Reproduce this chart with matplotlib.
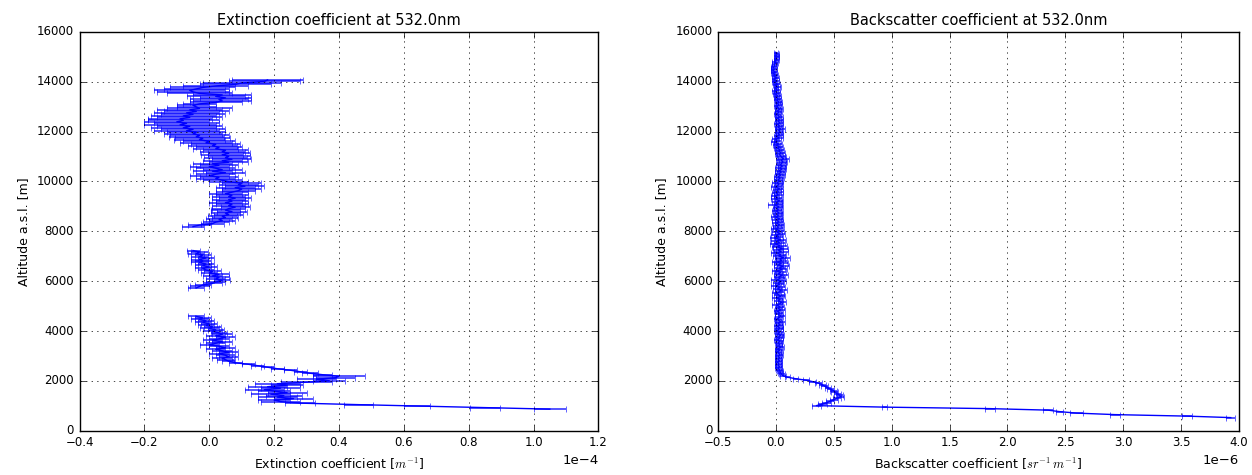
import numpy as np
import matplotlib
matplotlib.use("Agg")
import matplotlib.pyplot as plt

plt.style.use("classic")

# ---------------------------------------------------------------------------
# Extinction profile at 532 nm (units of 1e-4 m^-1), three valid segments
# ---------------------------------------------------------------------------
STEP = 60.0  # vertical resolution [m]

ext_low_start = 870.0
ext_low = [1.05, 0.85, 0.64, 0.46, 0.28, 0.22, 0.20, 0.26, 0.21, 0.23,
           0.19, 0.24, 0.20, 0.17, 0.22, 0.18, 0.24, 0.21, 0.30, 0.37,
           0.33, 0.39, 0.40, 0.35, 0.31, 0.28, 0.25, 0.21, 0.18, 0.15,
           0.12, 0.08, 0.06, 0.05, 0.04, 0.06, 0.05, 0.03, 0.06, 0.04,
           0.02, 0.05, 0.03, 0.00, 0.02, 0.04, 0.01, 0.03, 0.05, 0.02,
           0.04, 0.03, 0.01, 0.02, 0.00, 0.01, -0.01, 0.00, -0.02, -0.01,
           -0.03, -0.02, -0.04]
ext_low_err = [0.05, 0.045, 0.04, 0.045, 0.045, 0.06, 0.05, 0.06, 0.06, 0.055,
               0.06, 0.06, 0.05, 0.06, 0.06, 0.06, 0.05, 0.07, 0.08, 0.05,
               0.06, 0.06, 0.08, 0.03, 0.025, 0.02, 0.02, 0.02, 0.02, 0.02,
               0.02, 0.02, 0.02, 0.025, 0.03, 0.03, 0.03, 0.03, 0.03, 0.03,
               0.03, 0.03, 0.03, 0.03, 0.03, 0.03, 0.03, 0.03, 0.03, 0.03,
               0.03, 0.025, 0.03, 0.025, 0.03, 0.025, 0.025, 0.025, 0.025, 0.025,
               0.025, 0.025, 0.025]

ext_mid_start = 5730.0
ext_mid = [-0.04, -0.03, -0.02, 0.01, 0.02, 0.04, 0.02, 0.03, 0.01, 0.03,
           0.00, 0.01, -0.01, -0.02, 0.00, -0.02, -0.01, -0.03, -0.02, -0.03,
           -0.01, -0.03, -0.02, -0.04, -0.03, -0.05]
ext_mid_err = [0.025, 0.03, 0.025, 0.03, 0.03, 0.025, 0.03, 0.03, 0.03, 0.03,
               0.025, 0.025, 0.025, 0.025, 0.025, 0.025, 0.025, 0.025, 0.025, 0.025,
               0.025, 0.025, 0.025, 0.025, 0.025, 0.02]

ext_high_start = 8190.0
ext_high = [-0.05, -0.03, 0.01, 0.02, 0.04, 0.03, 0.05, 0.04, 0.06, 0.05,
            0.07, 0.05, 0.06, 0.08, 0.06, 0.07, 0.05, 0.07, 0.06, 0.08,
            0.06, 0.07, 0.05, 0.07, 0.09, 0.10, 0.08, 0.11, 0.09, 0.10,
            0.06, 0.04, 0.02, 0.03, 0.00, 0.02, 0.05, 0.01, 0.04, 0.02,
            0.00, 0.03, 0.01, 0.06, 0.04, 0.07, 0.05, 0.06, 0.04, 0.06,
            0.04, 0.05, 0.02, 0.03, 0.01, 0.02, -0.01, 0.00, -0.03, -0.02,
            -0.04, -0.03, -0.05, -0.04, -0.07, -0.05, -0.08, -0.06, -0.09, -0.07,
            -0.10, -0.08, -0.09, -0.06, -0.08, -0.05, -0.07, -0.04, -0.06, -0.03,
            -0.04, -0.05, -0.03, 0.02, 0.04, 0.03, 0.05, 0.02, 0.04, -0.03,
            -0.05, -0.06, -0.04, -0.02, 0.02, 0.08, 0.10, 0.17, 0.18]
ext_high_err = [0.035, 0.035, 0.035, 0.04, 0.04, 0.04, 0.04, 0.045, 0.045, 0.045,
                0.045, 0.045, 0.05, 0.045, 0.05, 0.05, 0.05, 0.05, 0.05, 0.05,
                0.05, 0.05, 0.05, 0.05, 0.05, 0.06, 0.06, 0.06, 0.06, 0.06,
                0.06, 0.06, 0.06, 0.06, 0.06, 0.06, 0.06, 0.06, 0.06, 0.06,
                0.06, 0.06, 0.06, 0.06, 0.06, 0.06, 0.065, 0.065, 0.065, 0.065,
                0.07, 0.07, 0.07, 0.07, 0.075, 0.075, 0.08, 0.08, 0.08, 0.085,
                0.085, 0.09, 0.09, 0.09, 0.10, 0.10, 0.10, 0.10, 0.11, 0.10,
                0.10, 0.11, 0.10, 0.10, 0.10, 0.10, 0.10, 0.10, 0.10, 0.10,
                0.06, 0.05, 0.05, 0.08, 0.09, 0.09, 0.08, 0.09, 0.09, 0.10,
                0.11, 0.11, 0.10, 0.10, 0.10, 0.11, 0.12, 0.11, 0.11]

# ---------------------------------------------------------------------------
# Backscatter profile at 532 nm (units of 1e-6 sr^-1 m^-1)
# ---------------------------------------------------------------------------
bsc_start = 530.0
bsc = [3.93, 3.55, 2.93, 2.60, 2.45, 2.35, 1.85, 0.94, 0.35, 0.40,
       0.44, 0.47, 0.50, 0.53, 0.56, 0.55, 0.53, 0.51, 0.50, 0.47,
       0.45, 0.42, 0.40, 0.37, 0.32, 0.26, 0.17, 0.10, 0.06, 0.05,
       0.04, 0.035, 0.03, 0.02, 0.03, 0.02, 0.025, 0.015, 0.03, 0.02,
       0.03, 0.02, 0.035, 0.025, 0.015, 0.03, 0.02, 0.04, 0.025, 0.03,
       0.02, 0.035, 0.015, 0.03, 0.025, 0.04, 0.02, 0.03, 0.01, 0.025,
       0.03, 0.015, 0.035, 0.02, 0.04, 0.025, 0.01, 0.03, 0.045, 0.02,
       0.03, 0.015, 0.04, 0.02, 0.035, 0.01, 0.03, 0.05, 0.02, 0.035,
       0.01, 0.04, 0.025, 0.005, 0.03, 0.045, 0.015, 0.035, 0.0, 0.03,
       0.02, 0.045, 0.01, 0.035, 0.025, 0.055, 0.02, 0.04, 0.01, 0.05,
       0.03, 0.06, 0.02, 0.045, 0.015, 0.05, 0.035, 0.065, 0.025, 0.04,
       0.01, 0.045, 0.02, 0.055, 0.015, 0.035, -0.005, 0.03, 0.01, 0.04,
       -0.01, 0.025, 0.005, 0.035, 0.01, 0.03, 0.0, 0.02, 0.015, 0.03,
       0.005, 0.025, 0.01, 0.03, 0.0, 0.02, 0.015, 0.025, 0.005, 0.02,
       0.01, 0.025, -0.005, 0.02, 0.01, 0.03, 0.0, 0.015, -0.01, 0.02,
       0.005, 0.02, 0.01, 0.03, 0.0, 0.015, 0.025, 0.01, 0.03, 0.02,
       0.035, 0.02, 0.04, 0.025, 0.045, 0.03, 0.05, 0.035, 0.055, 0.04,
       0.05, 0.06, 0.045, 0.065, 0.05, 0.04, 0.03, 0.045, 0.025, 0.035,
       0.015, 0.03, 0.005, 0.02, -0.01, 0.01, 0.0, 0.025, 0.01, 0.03,
       0.02, 0.035, 0.025, 0.04, 0.02, 0.03, 0.015, 0.035, 0.02, 0.03,
       0.015, 0.03, 0.02, 0.01, 0.025, 0.015, 0.03, 0.02, 0.01, 0.025,
       0.015, 0.025, 0.01, 0.02, 0.005, 0.015, 0.0, 0.01, -0.005, 0.01,
       0.0, 0.015, -0.005, 0.01, -0.01, 0.0, -0.015, 0.005, -0.01, -0.005,
       -0.02, -0.01, -0.025, -0.015, -0.02, -0.01, -0.015, 0.0, -0.01, 0.005,
       0.0, 0.01, 0.005, 0.01, 0.0]
bsc_err = [0.04, 0.045, 0.045, 0.055, 0.03, 0.04, 0.04, 0.02, 0.04, 0.04,
           0.04, 0.035, 0.035, 0.035, 0.03, 0.03, 0.03, 0.03, 0.03, 0.03,
           0.03, 0.03, 0.03, 0.03, 0.03, 0.03, 0.025, 0.025, 0.025, 0.025,
           0.025, 0.025, 0.025, 0.025, 0.025, 0.025, 0.025, 0.025, 0.025, 0.025,
           0.025, 0.025, 0.03, 0.025, 0.025, 0.03, 0.025, 0.03, 0.025, 0.025,
           0.03, 0.03, 0.03, 0.03, 0.035, 0.03, 0.03, 0.03, 0.03, 0.035,
           0.03, 0.035, 0.03, 0.03, 0.035, 0.03, 0.03, 0.035, 0.03, 0.03,
           0.035, 0.03, 0.035, 0.03, 0.035, 0.04, 0.03, 0.035, 0.035, 0.03,
           0.04, 0.04, 0.045, 0.04, 0.04, 0.05, 0.04, 0.045, 0.04, 0.04,
           0.045, 0.04, 0.05, 0.04, 0.045, 0.05, 0.04, 0.045, 0.04, 0.05,
           0.045, 0.05, 0.04, 0.06, 0.045, 0.05, 0.045, 0.06, 0.05, 0.045,
           0.05, 0.06, 0.045, 0.05, 0.05, 0.06, 0.05, 0.045, 0.05, 0.05,
           0.045, 0.04, 0.045, 0.04, 0.045, 0.04, 0.04, 0.045, 0.04, 0.04,
           0.04, 0.035, 0.04, 0.035, 0.04, 0.035, 0.04, 0.035, 0.04, 0.035,
           0.035, 0.04, 0.06, 0.035, 0.04, 0.035, 0.04, 0.035, 0.035, 0.04,
           0.035, 0.04, 0.035, 0.035, 0.04, 0.035, 0.035, 0.04, 0.035, 0.035,
           0.035, 0.035, 0.04, 0.035, 0.035, 0.04, 0.035, 0.04, 0.035, 0.035,
           0.04, 0.035, 0.04, 0.045, 0.04, 0.035, 0.035, 0.035, 0.03, 0.035,
           0.03, 0.035, 0.03, 0.035, 0.03, 0.03, 0.03, 0.035, 0.03, 0.03,
           0.03, 0.03, 0.03, 0.035, 0.03, 0.03, 0.03, 0.03, 0.03, 0.03,
           0.025, 0.03, 0.025, 0.025, 0.03, 0.025, 0.03, 0.025, 0.025, 0.025,
           0.025, 0.025, 0.025, 0.025, 0.025, 0.025, 0.025, 0.025, 0.025, 0.025,
           0.02, 0.025, 0.02, 0.025, 0.02, 0.025, 0.02, 0.025, 0.02, 0.02,
           0.02, 0.02, 0.02, 0.025, 0.02, 0.02, 0.02, 0.02, 0.02, 0.02,
           0.02, 0.02, 0.02, 0.02, 0.02]


def profile(start, values):
    """Altitude grid for a contiguous set of range bins."""
    return start + STEP * np.arange(len(values))


def join_segments(segments):
    """Concatenate (alt, val, err) segments with NaN breaks in between."""
    alts, vals, errs = [], [], []
    for i, (a, v, e) in enumerate(segments):
        if i:
            alts.append([np.nan]); vals.append([np.nan]); errs.append([np.nan])
        alts.append(np.asarray(a)); vals.append(np.asarray(v)); errs.append(np.asarray(e))
    return np.concatenate(alts), np.concatenate(vals), np.concatenate(errs)


ext_alt, ext_val, ext_err = join_segments([
    (profile(ext_low_start, ext_low), ext_low, ext_low_err),
    (profile(ext_mid_start, ext_mid), ext_mid, ext_mid_err),
    (profile(ext_high_start, ext_high), ext_high, ext_high_err),
])
bsc_alt = profile(bsc_start, bsc)

fig = plt.figure(figsize=(12.52, 4.75), dpi=100, facecolor="white")
ax1 = fig.add_axes([0.0635, 0.093, 0.4145, 0.840])
ax2 = fig.add_axes([0.5735, 0.093, 0.4160, 0.840])

FS_TICK = 8.5
FS_LABEL = 9
FS_TITLE = 10.5


def draw(ax, x, xerr, y, scale):
    eb = ax.errorbar(np.asarray(x) * scale, y, xerr=np.asarray(xerr) * scale,
                     color="b", ecolor="b", lw=1.0, elinewidth=1.1, capsize=2.3)
    for cap in eb[1]:
        cap.set_alpha(0.85)
    for bar in eb[2]:
        bar.set_alpha(0.85)
    ax.grid(True)
    ax.set_ylim(0, 16000)
    ax.ticklabel_format(axis="x", style="sci", scilimits=(0, 0))
    ax.tick_params(labelsize=FS_TICK)
    ax.xaxis.get_offset_text().set_fontsize(FS_TICK + 1)
    ax.set_ylabel("Altitude a.s.l. [m]", fontsize=FS_LABEL)


draw(ax1, ext_val, ext_err, ext_alt, 1e-4)
ax1.set_xlim(-0.4e-4, 1.2e-4)
ax1.set_title("Extinction coefficient at 532.0nm", fontsize=FS_TITLE)
ax1.set_xlabel(r"Extinction coefficient [$m^{-1}$]", fontsize=FS_LABEL)

draw(ax2, bsc, bsc_err, bsc_alt, 1e-6)
ax2.set_xlim(-0.5e-6, 4.0e-6)
ax2.set_title("Backscatter coefficient at 532.0nm", fontsize=FS_TITLE)
ax2.set_xlabel(r"Backscatter coefficient [$sr^{-1}\, m^{-1}$]", fontsize=FS_LABEL)

fig.savefig("out.png", dpi=100, facecolor="white")
